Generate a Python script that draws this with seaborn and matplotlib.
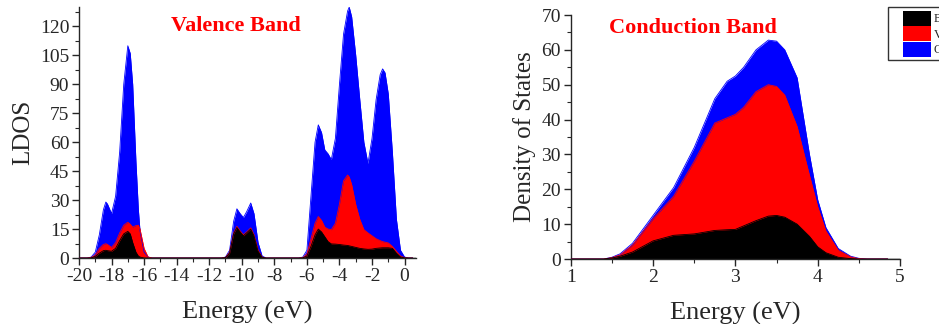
import numpy as np
import pandas as pd
import matplotlib
matplotlib.use("Agg")
import matplotlib.pyplot as plt
from matplotlib.patches import Patch, Rectangle
from matplotlib.legend_handler import HandlerPatch
from matplotlib.ticker import MultipleLocator
import seaborn as sns

# ---------------- data ----------------
vb_energy = [-20, -19.5, -19.25, -19.0, -18.75, -18.5, -18.35, -18.25, -18.0, -17.75, -17.5, -17.25,
             -17.0, -16.85, -16.7, -16.5, -16.35, -16.25, -16.0, -15.75, -15.5,
             -11.25, -11.0, -10.75, -10.5, -10.3, -10.1, -9.9, -9.7, -9.45, -9.25, -9.0, -8.75, -8.5,
             -6.5, -6.25, -6.0, -5.75, -5.5, -5.3, -5.1, -4.9, -4.7, -4.5, -4.25, -4.0, -3.75, -3.5,
             -3.4, -3.25, -3.0, -2.75, -2.5, -2.25, -2.0, -1.75, -1.5, -1.35, -1.2, -1.0, -0.75, -0.5,
             -0.25, 0.0, 0.25, 0.5]
vb_O = [0, 0, 0.5, 3, 12, 25, 29, 28, 23, 32, 55, 90,
        110, 106, 90, 50, 25, 14, 3, 0.5, 0,
        0, 0.5, 4, 19, 25.5, 23, 21, 24, 28.5, 23, 8, 1, 0,
        0, 0.5, 4, 32, 60, 69, 65, 56, 54, 51, 62, 90, 116, 128,
        130, 125, 105, 82, 60, 49, 62, 82, 95, 98, 96, 85, 55, 20,
        4, 0.5, 0, 0]
vb_V = [0, 0, 0.3, 1.5, 5, 7, 7.4, 7, 5.5, 8, 13, 17,
        18.5, 17.5, 16, 16.8, 17, 15, 5, 0.5, 0,
        0, 0.3, 3, 13, 16.4, 14, 12, 13.5, 15.6, 12, 4, 0.5, 0,
        0, 0.2, 2, 10, 18, 21.5, 19.5, 16, 15, 14.7, 18, 28, 40, 43,
        42, 38, 27.7, 20, 14.7, 13, 11.5, 10, 9, 8.5, 8.2, 7.8, 6, 3.5,
        1, 0.2, 0, 0]
vb_Bi = [0, 0, 0.1, 0.8, 2.5, 3.8, 4, 3.8, 3.5, 5, 9, 12.5,
         13.8, 12.5, 8, 3, 1, 0.5, 0, 0, 0,
         0, 0.2, 2.5, 12.5, 15.8, 13.5, 11.5, 13, 15, 11.5, 3.5, 0.4, 0,
         0, 0.1, 1, 6, 12, 15, 13.5, 11, 8.5, 7.3, 7.2, 7, 6.7, 6.5,
         6.3, 6, 5.5, 5, 4.7, 4.5, 4.6, 5, 5.2, 5.3, 5.3, 5.3, 5, 2.5,
         0.5, 0.1, 0, 0]

cb_energy = [1.0, 1.4, 1.5, 1.6, 1.75, 2.0, 2.25, 2.5, 2.75, 2.9, 3.0, 3.1, 3.25, 3.4, 3.5, 3.6,
             3.75, 3.9, 4.0, 4.1, 4.25, 4.4, 4.5, 4.6, 4.85]
cb_O = [0, 0, 0.5, 1.5, 4.5, 12.5, 20.5, 32, 46, 51, 52.5, 55, 60, 62.8, 62.5, 60,
        52, 30, 17, 9, 3, 0.8, 0.2, 0, 0]
cb_V = [0, 0, 0.4, 1.2, 4, 11.5, 18, 28, 39, 40.5, 41.5, 43.5, 48, 50, 49.5, 47,
        38, 24, 15, 8, 2.5, 0.6, 0.1, 0, 0]
cb_Bi = [0, 0, 0.3, 0.8, 2, 5.2, 6.8, 7.2, 8.2, 8.4, 8.5, 9.5, 11, 12.3, 12.5, 12,
         10, 6.5, 3.5, 1.8, 0.5, 0.1, 0, 0, 0]

elements = ["Bi", "V", "O"]
colors = {"Bi": "#000000", "V": "#ff0000", "O": "#0000ff"}

vb = pd.DataFrame({"E": vb_energy, "O": vb_O, "V": vb_V, "Bi": vb_Bi})
cb = pd.DataFrame({"E": cb_energy, "O": cb_O, "V": cb_V, "Bi": cb_Bi})

# ---------------- style ----------------
sns.set_style("ticks")
plt.rcParams["font.family"] = ["Liberation Serif", "DejaVu Serif"]

fig = plt.figure(figsize=(9.39, 3.24), dpi=100)
ax1 = fig.add_axes([0.0841, 0.2037, 0.443 - 0.0841, 0.978 - 0.2037])
ax2 = fig.add_axes([0.6078, 0.2006, 0.9585 - 0.6078, 0.9537 - 0.2006])


def draw(ax, df):
    for el in ["O", "V", "Bi"]:
        ax.fill_between(df["E"], 0, df[el], color=colors[el], linewidth=0, zorder=2)
        sns.lineplot(data=df, x="E", y=el, ax=ax, color=colors[el], linewidth=0.6,
                     zorder=3, legend=False, sort=False)
    ax.axhline(0, color="black", linewidth=1.0, zorder=1)


draw(ax1, vb)
draw(ax2, cb)

for ax in (ax1, ax2):
    sns.despine(ax=ax)
    ax.spines["left"].set_linewidth(1.0)
    ax.spines["bottom"].set_linewidth(1.0)
    ax.tick_params(axis="both", which="major", direction="out", length=5, width=1,
                   labelsize=14, pad=2)
    ax.tick_params(axis="both", which="minor", direction="out", length=3, width=0.8)
    ax.set_xlabel("Energy (eV)", fontsize=19, labelpad=12)

ax1.set_xlim(-20, 0.7)
ax1.set_ylim(0, 130)
ax1.xaxis.set_minor_locator(MultipleLocator(1))
ax1.yaxis.set_major_locator(MultipleLocator(15))
ax1.yaxis.set_minor_locator(MultipleLocator(7.5))
ax1.set_xticks(np.arange(-20, 1, 2))
ax1.set_xticklabels([f"{v:d}" for v in range(-20, 1, 2)])
ax1.set_ylabel("LDOS", fontsize=18, labelpad=4)
ax1.text(0.465, 0.925, "Valence Band", transform=ax1.transAxes, ha="center", va="center",
         fontsize=16, fontweight="bold", color="#ff0000")

ax2.set_xlim(1, 5)
ax2.set_ylim(0, 70)
ax2.xaxis.set_major_locator(MultipleLocator(1))
ax2.xaxis.set_minor_locator(MultipleLocator(0.5))
ax2.yaxis.set_major_locator(MultipleLocator(10))
ax2.yaxis.set_minor_locator(MultipleLocator(5))
ax2.set_ylabel("Density of States", fontsize=18, labelpad=4)
ax2.text(0.37, 0.945, "Conduction Band", transform=ax2.transAxes, ha="center", va="center",
         fontsize=16, fontweight="bold", color="#ff0000")


def right_rect(legend, orig_handle, xdescent, ydescent, width, height, fontsize):
    w = width * 0.71
    return Rectangle((-xdescent + width - w, -ydescent), w, height)


handles = [Patch(facecolor=colors[e], edgecolor="none") for e in elements]
leg = fig.legend(handles, elements, loc="upper left", bbox_to_anchor=(888 / 939, 1 - 7 / 324),
                 frameon=True, fancybox=False, fontsize=9, handlelength=3.15, handleheight=1.45,
                 handletextpad=0.2, borderpad=0.3, labelspacing=0.05, borderaxespad=0,
                 handler_map={Patch: HandlerPatch(patch_func=right_rect)})
leg.get_frame().set_edgecolor("black")
leg.get_frame().set_linewidth(1.0)

fig.savefig("out.png", dpi=100)
